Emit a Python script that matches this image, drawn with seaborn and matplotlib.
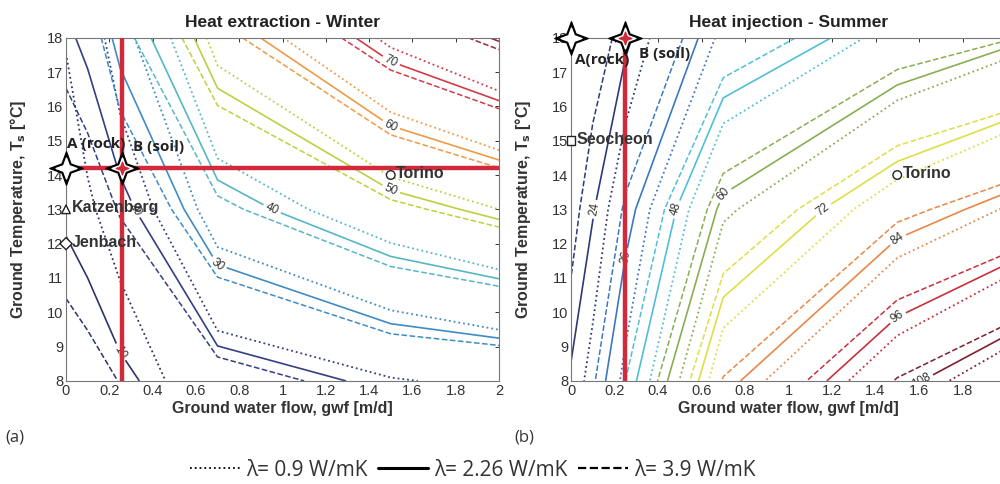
import numpy as np
import pandas as pd
import matplotlib
matplotlib.use("Agg")
import matplotlib.pyplot as plt
from matplotlib.lines import Line2D
from matplotlib.path import Path
import seaborn as sns

# =========================
# Data
# =========================
gwf = [0.0, 0.1, 0.25, 0.7, 1.5, 2.0]     # ground water flow [m/d]
ts = [8.0, 13.0, 18.0]                     # ground temperature [C]

# heat extraction - winter (rows = ts, cols = gwf)
winter_levels = [10, 20, 30, 40, 50, 60, 70, 80]
winter_colors = ["#2c3468", "#343f80", "#3f8cc4", "#56b6c4",
                 "#bcd13e", "#ef9a45", "#d23c46", "#9a2a3a"]
winter_l09 = [[1.5, 3.0, 6.5, 14.0, 19.5, 21.5],
              [7.0, 9.2, 12.5, 34.5, 45.0, 50.0],
              [10.3, 13.5, 26.0, 53.0, 71.5, 79.0]]
winter_l226 = [[3.5, 5.2, 8.6, 15.7, 21.5, 22.8],
               [11.2, 13.2, 17.0, 36.8, 47.0, 51.7],
               [18.8, 21.5, 32.8, 55.5, 73.7, 80.6]]
winter_l39 = [[6.3, 7.5, 10.2, 17.0, 23.0, 24.0],
              [14.0, 16.0, 20.5, 38.5, 48.5, 53.0],
              [22.5, 25.0, 37.0, 57.5, 75.0, 82.0]]

# heat injection - summer
summer_levels = [12, 24, 36, 48, 60, 72, 84, 96, 108, 120]
summer_colors = ["#262c5c", "#2e3a78", "#3c78c0", "#50bfd6", "#88ae52",
                 "#dede46", "#e88848", "#c8303c", "#7e2030", "#501820"]
summer_l09 = [[21.0, 26.0, 38.0, 78.0, 103.0, 113.5],
              [17.0, 20.0, 28.5, 58.5, 76.5, 84.5],
              [13.5, 15.5, 19.5, 37.5, 50.5, 56.5]]
summer_l226 = [[24.5, 31.0, 43.7, 81.6, 105.8, 115.6],
               [20.0, 23.5, 33.0, 61.9, 79.5, 86.7],
               [16.0, 18.0, 22.8, 40.5, 52.6, 58.3]]
summer_l39 = [[27.0, 35.0, 48.0, 84.5, 108.5, 117.5],
              [22.0, 27.0, 37.0, 64.5, 82.0, 88.5],
              [18.0, 21.0, 26.0, 43.0, 55.0, 59.5]]

# design points A (rock) / B (soil)
winter_A = (0.0, 14.2)
winter_B = (0.26, 14.2)
summer_A = (0.0, 18.0)
summer_B = (0.25, 18.0)

# reference sites
winter_sites = pd.DataFrame({
    "site": ["Katzenberg", "Jenbach", "Torino"],
    "gwf": [0.0, 0.0, 1.5],
    "Ts": [13.0, 12.0, 14.0],
})
summer_sites = pd.DataFrame({
    "site": ["Seocheon", "Torino"],
    "gwf": [0.0, 1.5],
    "Ts": [15.0, 14.0],
})
site_markers = {"Katzenberg": "^", "Jenbach": "D", "Torino": "o", "Seocheon": "s"}

xticks = [0, 0.2, 0.4, 0.6, 0.8, 1.0, 1.2, 1.4, 1.6, 1.8, 2.0]
xtick_labels_a = ["0", "0.2", "0.4", "0.6", "0.8", "1", "1.2", "1.4", "1.6", "1.8", "2"]
# the last label of panel (b) falls outside the picture in the original
xtick_labels_b = ["0", "0.2", "0.4", "0.6", "0.8", "1", "1.2", "1.4", "1.6", "1.8", ""]
yticks = [8, 9, 10, 11, 12, 13, 14, 15, 16, 17, 18]

lambda_labels = ["\u03bb= 0.9 W/mK", "\u03bb= 2.26 W/mK", "\u03bb= 3.9 W/mK"]

# =========================
# Style
# =========================
sns.set_theme(style="white")
plt.rcParams["font.family"] = ["Liberation Sans", "DejaVu Sans"]

RED = "#d22a3a"
TXT = "#333333"
CAL = ["Open Sans", "DejaVu Sans"]
star = Path([(0, 1), (0.27, 0.27), (1, 0), (0.27, -0.27), (0, -1),
             (-0.27, -0.27), (-1, 0), (-0.27, 0.27), (0, 1)], closed=True)

fig = plt.figure(figsize=(10, 4.84), dpi=100)
ax1 = fig.add_axes([0.066, 0.213, 0.433, 0.709])
ax2 = fig.add_axes([0.571, 0.213, 0.435, 0.709])


def draw_panel(ax, levels, colors, z09, z226, z39, title, xlabels):
    ax.contour(gwf, ts, np.array(z09), levels=levels, colors=colors,
               linestyles=":", linewidths=1.3)
    ax.contour(gwf, ts, np.array(z39), levels=levels, colors=colors,
               linestyles="--", linewidths=1.1)
    cs = ax.contour(gwf, ts, np.array(z226), levels=levels, colors=colors,
                    linestyles="-", linewidths=1.2)
    ax.clabel(cs, fmt="%d", fontsize=8.5, inline=True, inline_spacing=3,
              colors=TXT)

    ax.set_xlim(0, 2)
    ax.set_ylim(8, 18)
    ax.set_xticks(xticks)
    ax.set_xticklabels(xlabels)
    ax.set_yticks(yticks)
    ax.tick_params(direction="in", top=True, right=True, length=3,
                   width=0.7, labelsize=10.5, colors=TXT, pad=2)
    for sp in ax.spines.values():
        sp.set_color("#777777")
        sp.set_linewidth(0.8)
    ax.set_title(title, fontsize=12.5, fontweight="bold", color="#222222", pad=8)


def draw_star(ax, pt, face):
    ax.plot(pt[0], pt[1], marker=star, markersize=24, color="black",
            clip_on=False, zorder=6)
    ax.plot(pt[0], pt[1], marker=star, markersize=15, color="white",
            clip_on=False, zorder=7)
    ax.plot(pt[0], pt[1], marker=star, markersize=9, color=face,
            clip_on=False, zorder=8)


def draw_sites(ax, df):
    sns.scatterplot(data=df, x="gwf", y="Ts", style="site", markers=site_markers,
                    color="white", edgecolor="#222222", linewidth=1.0, s=38,
                    legend=False, ax=ax, clip_on=False, zorder=5)
    for _, r in df.iterrows():
        ax.annotate(r["site"], (r["gwf"], r["Ts"]), xytext=(4, 1),
                    textcoords="offset points", ha="left", va="center",
                    fontsize=11.5, fontweight="bold", color=TXT, zorder=9)


# ---------- (a) winter ----------
draw_panel(ax1, winter_levels, winter_colors, winter_l09, winter_l226, winter_l39,
           "Heat extraction - Winter", xtick_labels_a)
ax1.axvline(winter_B[0], color=RED, lw=3.2, zorder=4)
ax1.axhline(winter_A[1], color=RED, lw=3.2, zorder=4)
draw_sites(ax1, winter_sites)
draw_star(ax1, winter_A, "white")
draw_star(ax1, winter_B, RED)
ax1.annotate("A (rock)", winter_A, xytext=(1, 12), textcoords="offset points",
             ha="left", va="bottom", fontsize=11, fontweight="bold",
             family=CAL, color="#222222", zorder=9)
ax1.annotate("B (soil)", winter_B, xytext=(8, 10), textcoords="offset points",
             ha="left", va="bottom", fontsize=11, fontweight="bold",
             family=CAL, color="#222222", zorder=9)

# ---------- (b) summer ----------
draw_panel(ax2, summer_levels, summer_colors, summer_l09, summer_l226, summer_l39,
           "Heat injection - Summer", xtick_labels_b)
ax2.axvline(summer_B[0], color=RED, lw=3.2, zorder=4)
draw_sites(ax2, summer_sites)
draw_star(ax2, summer_A, "white")
draw_star(ax2, summer_B, RED)
ax2.annotate("A(rock)", summer_A, xytext=(3, -16), textcoords="offset points",
             ha="left", va="center", fontsize=11, fontweight="bold",
             family=CAL, color="#222222", zorder=9)
ax2.annotate("B (soil)", summer_B, xytext=(10, -12), textcoords="offset points",
             ha="left", va="center", fontsize=11, fontweight="bold",
             family=CAL, color="#222222", zorder=9)

for ax in (ax1, ax2):
    ax.set_xlabel("Ground water flow, gwf [m/d]", fontsize=11.5,
                  fontweight="bold", color=TXT)
    ax.set_ylabel("Ground Temperature, T$_\\mathbf{s}$ [\u00b0C]", fontsize=11.5,
                  fontweight="bold", color=TXT)
    ax.xaxis.set_label_coords(0.5, -0.058)
    ax.yaxis.set_label_coords(-0.088, 0.5)

# panel tags and legend
fig.text(0.005, 1 - 438 / 484, "(a)", fontsize=12, va="center",
         family=CAL, color=TXT)
fig.text(0.514, 1 - 438 / 484, "(b)", fontsize=12, va="center",
         family=CAL, color=TXT)

handles = [Line2D([], [], color="black", ls=":", lw=1.3),
           Line2D([], [], color="black", ls="-", lw=2.2),
           Line2D([], [], color="black", ls="--", lw=1.6)]
leg = fig.legend(handles, lambda_labels, loc="center", ncol=3, frameon=False,
                 bbox_to_anchor=(0.473, 1 - 470 / 484),
                 handlelength=2.4, handletextpad=0.3, columnspacing=0.5,
                 prop={"family": CAL, "size": 15})
for t in leg.get_texts():
    t.set_color(TXT)

fig.savefig("out.png", dpi=100)
